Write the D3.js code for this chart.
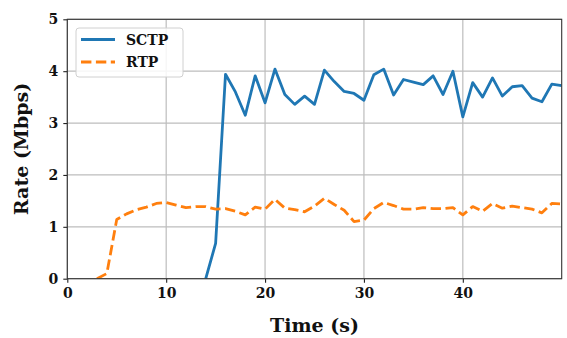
<!DOCTYPE html>
<html>
<head>
<meta charset="utf-8">
<script src="https://cdn.jsdelivr.net/npm/d3@7"></script>
<style>
  html, body { margin: 0; padding: 0; background: #fff; }
  svg { display: block; }
  text { font-family: "DejaVu Serif", serif; font-weight: bold; fill: #111; }
</style>
</head>
<body>
<svg id="chart" width="567" height="338"></svg>
<script>
// Measured throughput per second for each transport
const sctpTime = [14,15,16,17,18,19,20,21,22,23,24,25,26,27,28,29,30,31,32,33,34,35,36,37,38,39,40,41,42,43,44,45,46,47,48,49,50];
const sctpRate = [0,0.68,3.94,3.60,3.15,3.91,3.39,4.04,3.55,3.36,3.52,3.36,4.02,3.80,3.61,3.57,3.44,3.93,4.04,3.54,3.84,3.79,3.74,3.91,3.55,4.00,3.12,3.78,3.50,3.87,3.52,3.70,3.72,3.48,3.41,3.75,3.72];

const rtpTime = [3,4,5,6,7,8,9,10,11,12,13,14,15,16,17,18,19,20,21,22,23,24,25,26,27,28,29,30,31,32,33,34,35,36,37,38,39,40,41,42,43,44,45,46,47,48,49,50];
const rtpRate = [0,0.10,1.14,1.25,1.33,1.38,1.45,1.47,1.42,1.37,1.39,1.39,1.34,1.35,1.30,1.23,1.38,1.34,1.53,1.36,1.33,1.29,1.40,1.55,1.43,1.32,1.10,1.13,1.35,1.47,1.41,1.34,1.34,1.37,1.35,1.35,1.37,1.23,1.39,1.30,1.45,1.36,1.40,1.37,1.34,1.27,1.45,1.44];

const xTicks = [0, 10, 20, 30, 40];
const yTicks = [0, 1, 2, 3, 4, 5];

const seriesNames = ["SCTP", "RTP"];
const seriesColors = ["#1f77b4", "#ff7f0e"];

const svg = d3.select("#chart");
const margin = { left: 67.3, right: 567 - 561.7, top: 19.3, bottom: 338 - 278.7 };
const W = 567, H = 338;
const iw = W - margin.left - margin.right;
const ih = H - margin.top - margin.bottom;

const x = d3.scaleLinear().domain([0, 50]).range([margin.left, margin.left + iw]);
const y = d3.scaleLinear().domain([0, 5]).range([margin.top + ih, margin.top]);

// Grid
const grid = svg.append("g");
grid.selectAll("line.gx").data(xTicks).join("line")
  .attr("x1", d => x(d)).attr("x2", d => x(d))
  .attr("y1", margin.top).attr("y2", margin.top + ih)
  .attr("stroke", "#bdbdbd").attr("stroke-width", 1.2);
grid.selectAll("line.gy").data(yTicks).join("line")
  .attr("x1", margin.left).attr("x2", margin.left + iw)
  .attr("y1", d => y(d)).attr("y2", d => y(d))
  .attr("stroke", "#bdbdbd").attr("stroke-width", 1.2);

// Clip for data lines
svg.append("clipPath").attr("id", "plotClip")
  .append("rect").attr("x", margin.left).attr("y", margin.top).attr("width", iw).attr("height", ih);

const line = d3.line().x(d => x(d[0])).y(d => y(d[1]));
const plot = svg.append("g").attr("clip-path", "url(#plotClip)");

plot.append("path")
  .datum(sctpTime.map((t, i) => [t, sctpRate[i]]))
  .attr("d", line).attr("fill", "none")
  .attr("stroke", seriesColors[0]).attr("stroke-width", 2.8)
  .attr("stroke-linejoin", "round").attr("stroke-linecap", "butt");

plot.append("path")
  .datum(rtpTime.map((t, i) => [t, rtpRate[i]]))
  .attr("d", line).attr("fill", "none")
  .attr("stroke", seriesColors[1]).attr("stroke-width", 2.8)
  .attr("stroke-dasharray", "10.4,4.5")
  .attr("stroke-linejoin", "round");

// Axes
const xAxis = d3.axisBottom(x).tickValues(xTicks).tickSize(4).tickPadding(5).tickFormat(d3.format("d"));
const yAxis = d3.axisLeft(y).tickValues(yTicks).tickSize(4).tickPadding(5).tickFormat(d3.format("d"));

const gx = svg.append("g").attr("transform", `translate(0,${margin.top + ih})`).call(xAxis);
const gy = svg.append("g").attr("transform", `translate(${margin.left},0)`).call(yAxis);
[gx, gy].forEach(g => {
  g.select(".domain").remove();
  g.selectAll(".tick line").attr("stroke", "#222").attr("stroke-width", 1.1);
  g.selectAll(".tick text").style("font-size", "14px").attr("fill", "#111");
});

// Frame
svg.append("rect")
  .attr("x", margin.left).attr("y", margin.top).attr("width", iw).attr("height", ih)
  .attr("fill", "none").attr("stroke", "#333").attr("stroke-width", 1.1);

// Axis titles
svg.append("text")
  .attr("x", x(25)).attr("y", 332)
  .attr("text-anchor", "middle").style("font-size", "19px")
  .text("Time (s)");
svg.append("text")
  .attr("transform", `translate(28,${margin.top + ih / 2}) rotate(-90)`)
  .attr("text-anchor", "middle").style("font-size", "19px")
  .text("Rate (Mbps)");

// Legend
const lg = svg.append("g");
lg.append("rect")
  .attr("x", 76).attr("y", 28).attr("width", 107).attr("height", 49)
  .attr("rx", 3).attr("fill", "#fff").attr("fill-opacity", 0.85)
  .attr("stroke", "#d0d0d0").attr("stroke-width", 1);
seriesNames.forEach((name, i) => {
  const cy = 39.5 + i * 22.5;
  lg.append("line")
    .attr("x1", 81).attr("x2", 115).attr("y1", cy).attr("y2", cy)
    .attr("stroke", seriesColors[i]).attr("stroke-width", 2.8)
    .attr("stroke-dasharray", i === 1 ? "10.4,4.5" : null);
  lg.append("text")
    .attr("x", 126).attr("y", cy + 5)
    .style("font-size", "14px")
    .text(name);
});
</script>
</body>
</html>
